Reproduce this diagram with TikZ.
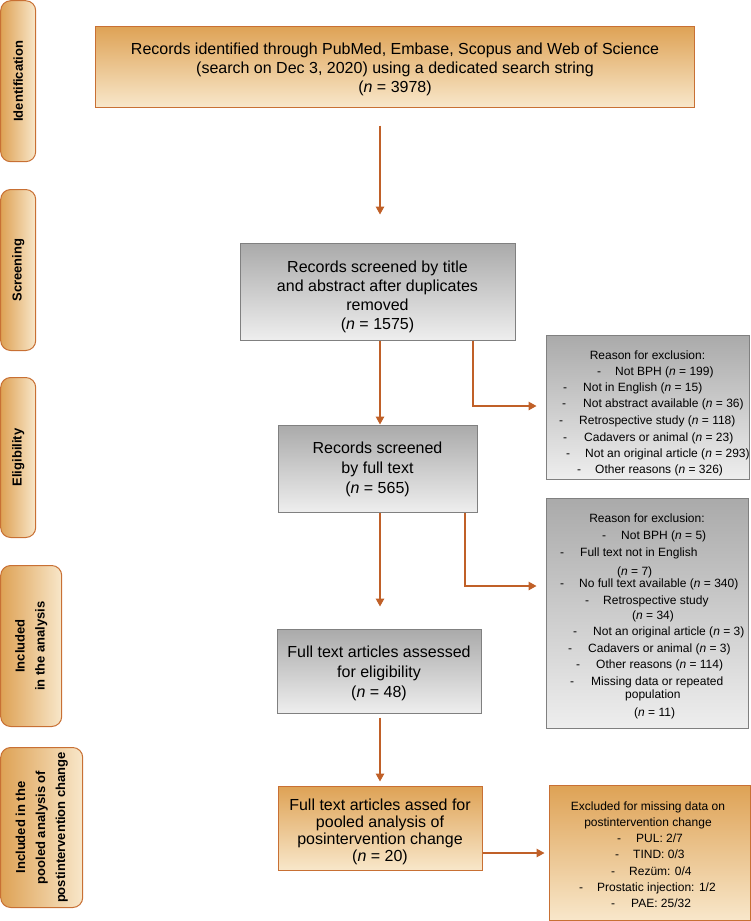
\documentclass[tikz,border=0pt]{standalone}
\usepackage{fontspec}
\setmainfont{Liberation Sans}
\usetikzlibrary{arrows.meta,calc}
\definecolor{orTop}{RGB}{222,162,85}
\definecolor{orBot}{RGB}{248,231,202}
\definecolor{orLine}{RGB}{200,112,52}
\definecolor{arrC}{RGB}{192,96,40}
\definecolor{grTop}{RGB}{170,170,170}
\definecolor{grBot}{RGB}{238,238,238}
\definecolor{grLine}{RGB}{128,128,128}
\tikzset{
  orbox/.style={draw=orLine, line width=1bp, top color=orTop, bottom color=orBot, inner sep=0pt},
  grbox/.style={draw=grLine, line width=1bp, top color=grTop, bottom color=grBot, inner sep=0pt},
  side/.style={draw=orLine, line width=1bp, rounded corners=10bp, left color=orTop, right color=orBot},
  sidetxt/.style={rotate=90, font=\bfseries\fontsize{13bp}{20bp}\selectfont, align=center, inner sep=0pt},
  bigtxt/.style={font=\fontsize{16bp}{19bp}\selectfont, align=center, inner sep=0pt},
  lst/.style={font=\fontsize{12bp}{16bp}\selectfont, inner sep=0pt},
  arr/.style={draw=arrC, line width=1.4bp, -{Triangle[length=8bp,width=8.5bp]}},
}
\begin{document}
\begin{tikzpicture}[x=1bp,y=-1bp]
\useasboundingbox (0,0) rectangle (751,921);
% side labels
\node[side, minimum width=35bp, minimum height=161bp] (s1) at (18.2,81.2) {};
\node[sidetxt] (s1t) at (s1.center) {Identification};
\node[side, minimum width=35bp, minimum height=161bp] (s2) at (18.2,270) {};
\node[sidetxt] (s2t) at (s2.center) {Screening};
\node[side, minimum width=35bp, minimum height=160bp] (s3) at (18.2,457.5) {};
\node[sidetxt] (s3t) at (s3.center) {Eligibility};
\node[side, minimum width=61bp, minimum height=161bp] (s4) at (31.2,646) {};
\node[sidetxt] (s4t) at (s4.center) {Included\\in the analysis};
\node[side, minimum width=82bp, minimum height=160bp] (s5) at (41.7,827.5) {};
\node[sidetxt] (s5t) at (s5.center) {Included in the\\pooled analysis of\\postintervention change};
% main boxes
\node[orbox, minimum width=598bp, minimum height=81bp] (id) at (395,66.5) {};
\node[bigtxt] (idt) at ([yshift=-2.5bp]id.center)
  {Records identified through PubMed, Embase, Scopus and Web of Science\\(search on Dec 3, 2020) using a dedicated search string\\(\textit{n} = 3978)};
\node[grbox, minimum width=275bp, minimum height=97bp] (scr) at (377.5,291.5) {};
\node[bigtxt] (scrt) at ([yshift=-5.5bp]scr.center)
  {Records screened by title\\and abstract after duplicates\\removed\\(\textit{n} = 1575)};
\node[grbox, minimum width=199bp, minimum height=87bp] (elig) at (377.5,468.5) {};
\node[bigtxt, font=\fontsize{16bp}{20bp}\selectfont] (eligt) at ([yshift=-1bp]elig.center)
  {Records screened\\by full text\\(\textit{n} = 565)};
\node[grbox, minimum width=204bp, minimum height=84bp] (full) at (379,671) {};
\node[bigtxt, font=\fontsize{16bp}{20bp}\selectfont] (fullt) at ([yshift=-2.5bp]full.center)
  {Full text articles assessed\\for eligibility\\(\textit{n} = 48)};
\node[orbox, minimum width=204bp, minimum height=84bp] (pool) at (380,828) {};
\node[bigtxt, font=\fontsize{16bp}{17bp}\selectfont] (poolt) at ([yshift=-3.5bp]pool.center)
  {Full text articles assed for\\pooled analysis of\\posintervention change\\(\textit{n} = 20)};
% exclusion boxes
\node[grbox, minimum width=203bp, minimum height=144bp] (ex1) at (647.5,407) {};
\node[grbox, minimum width=202bp, minimum height=230bp] (ex2) at (647,613) {};
\node[orbox, minimum width=201bp, minimum height=135bp] (ex3) at (649.5,852.5) {};
% ex1 text
\node[lst, anchor=base] (e1h) at (647.5,359) {Reason for exclusion:};
\foreach \yy/\dx/\tx/\tt [count=\i] in {
  371/597/615/{Not BPH (\textit{n} = 199)},
  387/563/583/{Not in English (\textit{n} = 15)},
  403/562/583/{Not abstract available (\textit{n} = 36)},
  420/559/579/{Retrospective study (\textit{n} = 118)},
  437/563/584/{Cadavers or animal (\textit{n} = 23)},
  453/566/585/{Not an original article (\textit{n} = 293)},
  469/577/595/{Other reasons (\textit{n} = 326)}}{
  \node[lst, anchor=base west] (e1d\i) at (\dx,\yy+4) {-};
  \node[lst, anchor=base west] (e1t\i) at (\tx,\yy+4) {\tt};
}
% ex2 text
\node[lst, anchor=base] (e2h) at (647,522) {Reason for exclusion:};
\foreach \yy/\dx/\tx/\tt [count=\i] in {
  535/602/621/{Not BPH (\textit{n} = 5)},
  552/560/580/{Full text not in English},
  583/560/579/{No full text available (\textit{n} = 340)},
  600/585/603/{Retrospective study},
  631/573/593/{Not an original article (\textit{n} = 3)},
  648/568/588/{Cadavers or animal (\textit{n} = 3)},
  664/576/596/{Other reasons (\textit{n} = 114)},
  681/570/591/{Missing data or repeated}}{
  \node[lst, anchor=base west] (e2d\i) at (\dx,\yy+4) {-};
  \node[lst, anchor=base west] (e2t\i) at (\tx,\yy+4) {\tt};
}
\node[lst, anchor=base west] (e2c1) at (617,575) {(\textit{n} = 7)};
\node[lst, anchor=base west] (e2c2) at (632,619) {(\textit{n} = 34)};
\node[lst, anchor=base west] (e2c3) at (625,698) {population};
\node[lst, anchor=base west] (e2c4) at (634,716) {(\textit{n} = 11)};
% ex3 text
\node[lst, anchor=base] (e3h1) at (648,810) {Excluded for missing data on};
\node[lst, anchor=base] (e3h2) at (648,826) {postintervention change};
\foreach \yy/\dx/\tx/\tt [count=\i] in {
  838/617/636/{PUL: 2/7},
  854/615/633/{TIND: 0/3},
  871/611/629/{Rezüm: 0/4},
  887/579/597/{Prostatic injection: 1/2},
  903/611/631/{PAE: 25/32}}{
  \node[lst, anchor=base west] (e3d\i) at (\dx,\yy+4) {-};
  \node[lst, anchor=base west] (e3t\i) at (\tx,\yy+4) {\tt};
}
% arrows
\draw[arr, shorten <=18bp, shorten >=28bp] ([xshift=2.5bp]scr.north |- id.south) -- ([xshift=2.5bp]scr.north);
\draw[arr] ([xshift=2.5bp]scr.south) -- ([xshift=2.5bp]scr.south |- elig.north);
\draw[arr, shorten >=22bp] ([xshift=2.5bp]elig.south) -- ([xshift=2.5bp]elig.south |- full.north);
\draw[arr, shorten <=4bp, shorten >=4bp] ([xshift=1bp]full.south) -- ([xshift=1bp]full.south |- pool.north);
\coordinate (b1) at (473,406);
\coordinate (b2) at (465,586);
\coordinate (b3) at (0,853);
\draw[arr, shorten >=9bp] (scr.south -| b1) |- (ex1.west |- b1);
\draw[arr, shorten >=9bp] (elig.south -| b2) |- (ex2.west |- b2);
\draw[arr, shorten >=4bp] (pool.east |- b3) -- (ex3.west |- b3);
\end{tikzpicture}
\end{document}
